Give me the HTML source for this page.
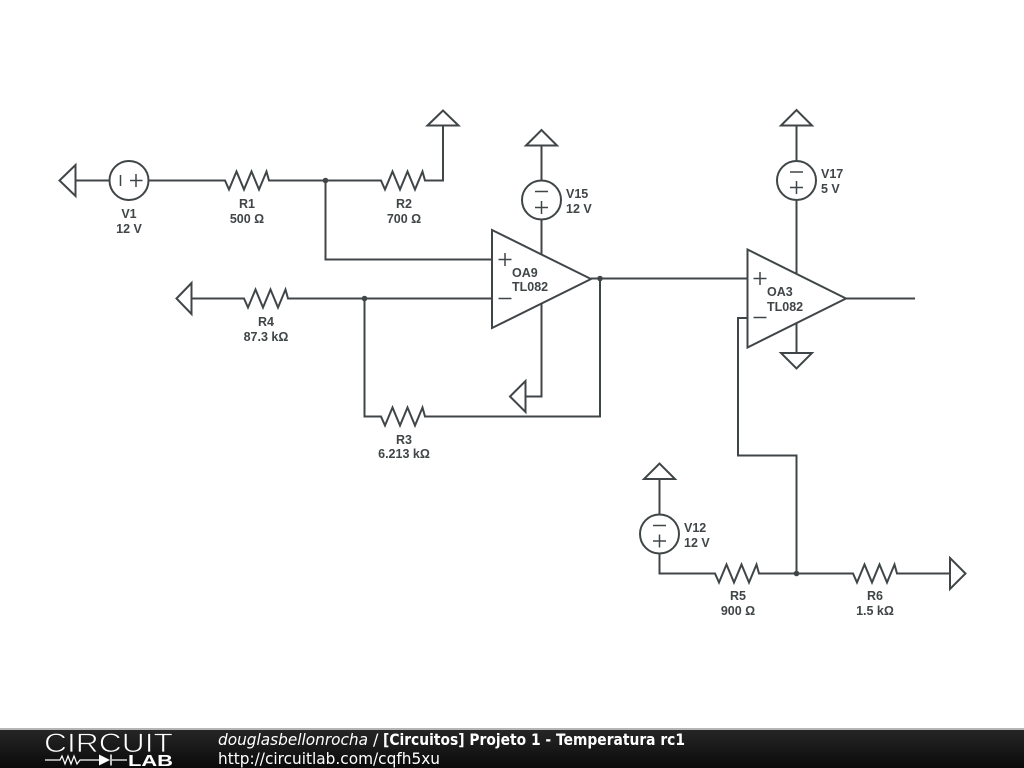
<!DOCTYPE html>
<html><head><meta charset="utf-8"><style>
html,body{margin:0;padding:0;background:#fff;width:1024px;height:768px;overflow:hidden}
svg{display:block}
.w{fill:none;stroke:#404648;stroke-width:2;stroke-linejoin:miter}
.l{font-family:"Liberation Sans",sans-serif;font-size:12.5px;font-weight:bold;fill:#404648}
.b{font-family:"DejaVu Sans",sans-serif;font-size:16px;fill:#fff}
</style></head><body>
<svg width="1024" height="768" viewBox="0 0 1024 768" xmlns="http://www.w3.org/2000/svg">
<defs>
<linearGradient id="g" x1="0" y1="0" x2="0" y2="1"><stop offset="0" stop-color="#262626"/><stop offset="1" stop-color="#0a0a0a"/></linearGradient>
</defs>
<g class="w">
<!-- V1 row -->
<path d="M59.500 180.500L75.500 165V196Z"/>
<path d="M75.500 180.500H109.500"/>
<circle cx="129" cy="180.500" r="19.500"/>
<path d="M120.500 175V186M130 180.500H142.500M136 174V187" stroke-width="1.500"/>
<path d="M148.500 180.500H225L229 189.500L236.500 171.500L244 189.500L251.500 171.500L259 189.500L266.500 171.500L269 180.500H381L385 189.500L392.500 171.500L400 189.500L407.500 171.500L415 189.500L422.500 171.500L425 180.500H443V125.500"/>
<path d="M427.500 125.500L443 110.500L458.500 125.500Z"/>
<path d="M325.500 180.500V259.500H491.500"/>
<!-- R4 row -->
<path d="M176.500 298.500L191.500 283V314Z"/>
<path d="M191.500 298.500H244L248 307.500L255.500 289.500L263 307.500L270.500 289.500L278 307.500L285.500 289.500L288 298.500H491.500"/>
<path d="M364.500 298.500V416.500H381L385 425.500L392.500 407.500L400 425.500L407.500 407.500L415 425.500L422.500 407.500L425 416.500H600V278.500"/>
<!-- OA9 -->
<path d="M492 230L591 279L492 328Z"/>
<path d="M498.500 259.500H511.500M505 253V266M498.500 298.500H511.500" stroke-width="1.500"/>
<path d="M541.500 145.500V180.500"/>
<path d="M526 145.500L541.500 130L557 145.500Z"/>
<circle cx="541.500" cy="200" r="19.500"/>
<path d="M535 191.500H548M535 207.500H548M541.500 201V214" stroke-width="1.500"/>
<path d="M541.500 219.500V254"/>
<path d="M541.500 304V396.500H525.500"/>
<path d="M510 396.500L525.500 381V412Z"/>
<path d="M591 278.500H747"/>
<!-- OA3 -->
<path d="M747.500 249.500L846 298.500L747.500 347.500Z"/>
<path d="M753.500 278.500H766.500M760 272V285M753.500 317.500H766.500" stroke-width="1.500"/>
<path d="M796.500 125.500V161"/>
<path d="M781 125.500L796.500 110L812 125.500Z"/>
<circle cx="796.500" cy="180.500" r="19.500"/>
<path d="M790 172H803M790 187.500H803M796.500 181V194" stroke-width="1.500"/>
<path d="M796.500 200V273.500"/>
<path d="M796.500 323V353"/>
<path d="M781 353H812L796.500 368.500Z"/>
<path d="M846 298.500H915"/>
<path d="M747.500 318H738V455.500H796.500V573.500"/>
<!-- V12 row -->
<path d="M644 479H675L659.500 463.500Z"/>
<path d="M659.500 479V514"/>
<circle cx="659.500" cy="534" r="19.500"/>
<path d="M653 525.500H666M653 541H666M659.500 534.500V547.500" stroke-width="1.500"/>
<path d="M659.500 553.500V573.500H715L719 582.500L726.500 564.500L734 582.500L741.500 564.500L749 582.500L756.500 564.500L759 573.500H853L857 582.500L864.500 564.500L872 582.500L879.500 564.500L887 582.500L894.500 564.500L897 573.500H950"/>
<path d="M950 558L965.500 573.500L950 589Z"/>
</g>
<g fill="#404648">
<circle cx="325.500" cy="180.500" r="2.800"/>
<circle cx="364.500" cy="298.500" r="2.800"/>
<circle cx="600" cy="278.500" r="2.800"/>
<circle cx="796.500" cy="573.500" r="2.800"/>
</g>
<g class="l" text-anchor="middle">
<text x="129" y="218">V1</text><text x="129" y="233">12 V</text>
<text x="247" y="208">R1</text><text x="247" y="223">500 Ω</text>
<text x="404" y="208">R2</text><text x="404" y="223">700 Ω</text>
<text x="266" y="326">R4</text><text x="266" y="341">87.3 kΩ</text>
<text x="404" y="444">R3</text><text x="404" y="458">6.213 kΩ</text>
<text x="738" y="600">R5</text><text x="738" y="615">900 Ω</text>
<text x="875" y="600">R6</text><text x="875" y="615">1.5 kΩ</text>
</g>
<g class="l">
<text x="566" y="198">V15</text><text x="566" y="213">12 V</text>
<text x="821" y="178">V17</text><text x="821" y="193">5 V</text>
<text x="684" y="532">V12</text><text x="684" y="547">12 V</text>
<text x="512" y="277">OA9</text><text x="512" y="291">TL082</text>
<text x="767" y="296">OA3</text><text x="767" y="311">TL082</text>
</g>
<!-- Banner -->
<rect x="0" y="728" width="1024" height="2" fill="#b5b5b5"/>
<rect x="0" y="730" width="1024" height="38" fill="url(#g)"/>
<text x="44" y="752" font-family="Liberation Sans,sans-serif" font-size="27" fill="#fff" stroke="#1c1c1c" stroke-width="0.800" paint-order="fill stroke" textLength="129" lengthAdjust="spacingAndGlyphs">CIRCUIT</text>
<path d="M45 760H60L62 756L65 764L68 756L71 764L74 756L77 764L80 760H99M112 760H127" stroke="#fff" stroke-width="1.200" fill="none"/>
<path d="M99 754.500L110 760L99 765.500Z" fill="#fff"/>
<path d="M111 754.500V765.500" stroke="#fff" stroke-width="1.500"/>
<text x="128" y="766" font-family="Liberation Sans,sans-serif" font-size="16" font-weight="bold" fill="#fff" textLength="45" lengthAdjust="spacingAndGlyphs">LAB</text>
<text class="b" x="218" y="745" font-style="italic" textLength="150" lengthAdjust="spacingAndGlyphs">douglasbellonrocha</text>
<text class="b" x="373" y="745">/</text>
<text class="b" x="383" y="745" font-weight="bold" textLength="302" lengthAdjust="spacingAndGlyphs">[Circuitos] Projeto 1 - Temperatura rc1</text>
<text class="b" x="218" y="764" textLength="222" lengthAdjust="spacingAndGlyphs">http://circuitlab.com/cqfh5xu</text>
</svg>
</body></html>
